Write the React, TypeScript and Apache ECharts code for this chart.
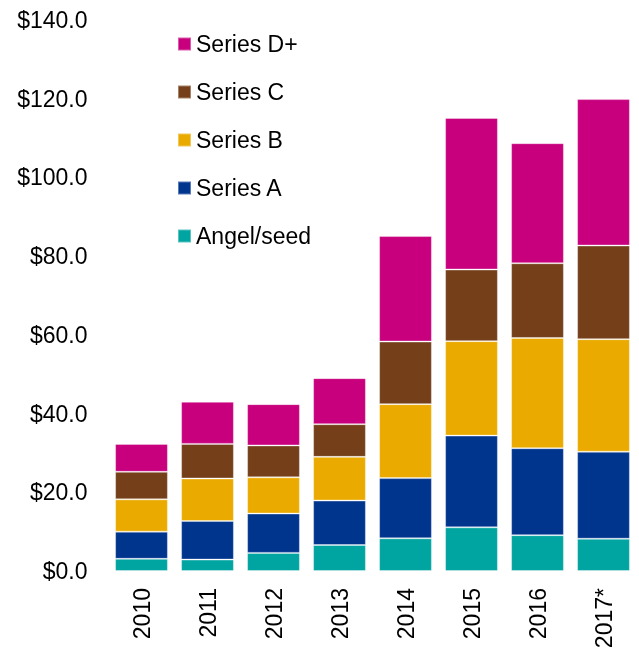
import React, { useEffect, useRef } from "react";
import * as echarts from "echarts";

const years = ["2010", "2011", "2012", "2013", "2014", "2015", "2016", "2017*"];
const angelSeed = [3.1, 2.9, 4.6, 6.6, 8.3, 11.1, 9.1, 8.2];
const seriesA = [6.9, 9.8, 10.0, 11.3, 15.3, 23.3, 22.1, 22.1];
const seriesB = [8.2, 10.8, 9.2, 11.1, 18.8, 24.0, 28.0, 28.6];
const seriesC = [7.0, 8.8, 8.1, 8.3, 15.9, 18.2, 19.0, 23.8];
const seriesD = [7.1, 10.7, 10.5, 11.7, 26.8, 38.5, 30.5, 37.2];

const seriesNames = ["Angel/seed", "Series A", "Series B", "Series C", "Series D+"];
const seriesData = [angelSeed, seriesA, seriesB, seriesC, seriesD];
const colors = ["#00A4A0", "#00358E", "#EAAA00", "#753F1A", "#C8007D"];

export default function App() {
  const ref = useRef<HTMLDivElement>(null);
  useEffect(() => {
    if (!ref.current) return;
    const chart = echarts.init(ref.current, null, { renderer: "svg" });
    const font = "Liberation Sans, Arial, sans-serif";
    chart.setOption({
      animation: false,
      textStyle: { fontFamily: font },
      grid: {
        left: 108.5,
        right: 2.5,
        top: 20,
        bottom: 77,
        containLabel: false,
        outerBoundsMode: "none",
      },
      legend: {
        orient: "vertical",
        left: 172,
        top: 27.5,
        icon: "rect",
        itemWidth: 13,
        itemHeight: 13,
        itemGap: 25,
        data: [...seriesNames].reverse(),
        textStyle: { fontSize: 23, lineHeight: 23, color: "#000", fontFamily: font },
      },
      xAxis: {
        type: "category",
        data: years,
        axisLine: { show: false },
        axisTick: { show: false },
        axisLabel: {
          rotate: 90,
          fontSize: 23,
          color: "#000",
          margin: 17,
          fontFamily: font,
        },
      },
      yAxis: {
        type: "value",
        min: 0,
        max: 140,
        interval: 20,
        splitLine: { show: false },
        axisLine: { show: false },
        axisTick: { show: false },
        axisLabel: {
          fontSize: 23,
          color: "#000",
          margin: 21,
          fontFamily: font,
          formatter: (v: number) => "$" + v.toFixed(1),
        },
      },
      series: seriesNames.map((name, i) => ({
        name,
        type: "bar",
        stack: "total",
        barCategoryGap: "20%",
        data: seriesData[i],
        itemStyle: {
          color: colors[i],
          borderColor: "rgba(255,255,255,0.35)",
          borderWidth: 1,
        },
      })),
    });
    return () => chart.dispose();
  }, []);
  return (
    <div
      ref={ref}
      style={{ position: "fixed", left: 0, top: 0, width: 639, height: 648 }}
    />
  );
}
